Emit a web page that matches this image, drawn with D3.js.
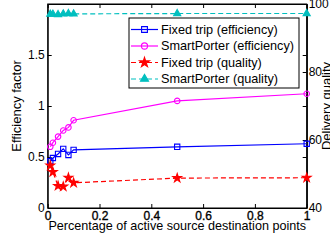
<!DOCTYPE html>
<html>
<head>
<meta charset="utf-8">
<script src="https://cdn.jsdelivr.net/npm/d3@7"></script>
<style>
  body { margin: 0; background: #fff; }
  text { font-family: "Liberation Sans", Arial, sans-serif; fill: #000; }
  .axis path, .axis line { stroke: #000; stroke-width: 1; }
  .axis text { font-size: 12px; }
  .xaxis text { stroke: #000; stroke-width: 0.35; }
</style>
</head>
<body>
<div class="chart"></div>
<script>
// data
var xVals = [0.01, 0.02, 0.04, 0.06, 0.08, 0.1, 0.5, 1];
var fixedEff = [0.46, 0.49, 0.53, 0.58, 0.52, 0.57, 0.60, 0.63];
var smartEff = [0.60, 0.64, 0.70, 0.76, 0.79, 0.86, 1.05, 1.12];
var fixedQual = [52.5, 50.6, 46.5, 46.3, 48.9, 47.4, 48.8, 48.9];
var smartQual = [97.0, 97.0, 96.9, 97.1, 97.2, 97.1, 97.2, 97.2];
var xTicks = [0, 0.2, 0.4, 0.6, 0.8, 1];
var leftTicks = [0, 0.5, 1, 1.5];
var rightTicks = [40, 60, 80, 100];
var legendLabels = ["Fixed trip (efficiency)", "SmartPorter (efficiency)", "Fixed trip (quality)", "SmartPorter (quality)"];

var svgWidth = 330;
var svgHeight = 242;
var margin = { top: 4, right: 23.3, bottom: 34, left: 47.7 };
var width = svgWidth - margin.left - margin.right;
var height = svgHeight - margin.top - margin.bottom;

var svg = d3.select(".chart")
  .append("svg")
  .attr("width", svgWidth)
  .attr("height", svgHeight);

var chart = svg.append("g")
  .attr("transform", "translate(" + margin.left + "," + margin.top + ")");

var xScale = d3.scaleLinear().domain([0, 1]).range([0, width]);
var yLeft = d3.scaleLinear().domain([0, 2]).range([height, 0]);
var yRight = d3.scaleLinear().domain([40, 100]).range([height, 0]);

// box
chart.append("rect")
  .attr("width", width).attr("height", height)
  .attr("fill", "none").attr("stroke", "#000");

chart.append("g")
  .attr("class", "axis xaxis")
  .attr("transform", "translate(0," + height + ")")
  .call(d3.axisBottom(xScale).tickValues(xTicks).tickFormat(d3.format("")).tickSizeInner(-4).tickSizeOuter(0).tickPadding(3));

chart.append("g")
  .attr("class", "axis")
  .call(d3.axisTop(xScale).tickValues(xTicks).tickFormat("").tickSizeInner(-4).tickSizeOuter(0));

chart.append("g")
  .attr("class", "axis")
  .call(d3.axisLeft(yLeft).tickValues(leftTicks).tickFormat(d3.format("")).tickSizeInner(-4).tickSizeOuter(0).tickPadding(3));

// left ticks mirrored on right side
chart.append("g")
  .attr("class", "axis")
  .attr("transform", "translate(" + width + ",0)")
  .call(d3.axisRight(yLeft).tickValues(leftTicks).tickFormat("").tickSizeInner(-4).tickSizeOuter(0));

chart.append("g")
  .attr("class", "axis")
  .attr("transform", "translate(" + width + ",0)")
  .call(d3.axisRight(yRight).tickValues(rightTicks).tickFormat(d3.format("")).tickSizeInner(-4).tickSizeOuter(0).tickPadding(2));

var series = [
  { values: fixedEff, scale: yLeft, color: "#0000ff", dash: null, symbol: d3.symbolSquare, size: 28, fill: "none" },
  { values: smartEff, scale: yLeft, color: "#ff00ff", dash: null, symbol: d3.symbolCircle, size: 24, fill: "none" },
  { values: fixedQual, scale: yRight, color: "#ff0000", dash: "5,3", symbol: d3.symbolStar, size: 24, fill: "#ff0000" },
  { values: smartQual, scale: yRight, color: "#00bfbf", dash: "5,3", symbol: d3.symbolTriangle, size: 22, fill: "#00bfbf" }
];

series.forEach(function(s) {
  var line = d3.line()
    .x(function(d, i) { return xScale(xVals[i]); })
    .y(function(d) { return s.scale(d); });

  chart.append("path")
    .datum(s.values)
    .attr("d", line)
    .attr("fill", "none")
    .attr("stroke", s.color)
    .attr("stroke-width", 1.2)
    .attr("stroke-dasharray", s.dash);

  chart.selectAll(null)
    .data(s.values)
    .enter().append("path")
    .attr("transform", function(d, i) {
      return "translate(" + xScale(xVals[i]) + "," + s.scale(d) + ")";
    })
    .attr("d", d3.symbol().type(s.symbol).size(s.size))
    .attr("fill", s.fill)
    .attr("stroke", s.color)
    .attr("stroke-width", 1.1);
});

// legend
var legend = svg.append("g").attr("transform", "translate(129,18)");
legend.append("rect")
  .attr("width", 170).attr("height", 70)
  .attr("fill", "#fff").attr("stroke", "#000").attr("stroke-width", 1);

series.forEach(function(s, i) {
  var y = 11.5 + i * 16.5;
  legend.append("line")
    .attr("x1", 2).attr("x2", 29).attr("y1", y).attr("y2", y)
    .attr("stroke", s.color).attr("stroke-width", 1.2)
    .attr("stroke-dasharray", s.dash);
  legend.append("path")
    .attr("transform", "translate(15.5," + y + ")")
    .attr("d", d3.symbol().type(s.symbol).size(s.size + 6))
    .attr("fill", s.fill)
    .attr("stroke", s.color)
    .attr("stroke-width", 1.1);
  legend.append("text")
    .attr("x", 32)
    .attr("y", y)
    .attr("dy", "0.35em")
    .style("font-size", "12.7px")
    .text(legendLabels[i]);
});

// axis titles
svg.append("text")
  .attr("x", margin.left + width / 2)
  .attr("y", 230)
  .attr("text-anchor", "middle")
  .style("font-size", "12.6px")
  .text("Percentage of active source destination points");

svg.append("text")
  .attr("transform", "translate(21," + (margin.top + height / 2) + ") rotate(-90)")
  .attr("text-anchor", "middle")
  .style("font-size", "13px")
  .text("Efficiency factor");

svg.append("text")
  .attr("transform", "translate(330.5," + (margin.top + height / 2) + ") rotate(-90)")
  .attr("text-anchor", "middle")
  .style("font-size", "13px")
  .text("Delivery quality");
</script>
</body>
</html>
